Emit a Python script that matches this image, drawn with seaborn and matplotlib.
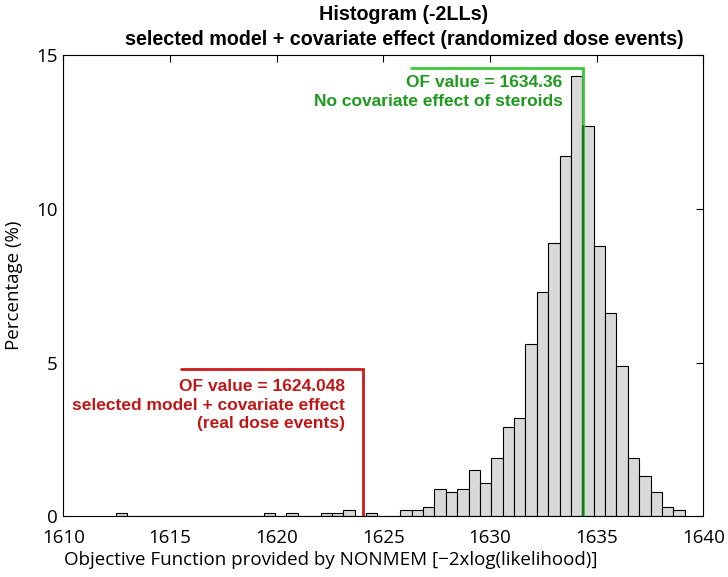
import numpy as np
import pandas as pd
import matplotlib
matplotlib.use("Agg")
import matplotlib.pyplot as plt
import seaborn as sns

# ---- data ----
bin_lo = 1612.46
bin_hi = 1639.13
n_bins = 50
# percentage per bin (1000 runs -> 0.1 % per run)
pct = [0.1, 0, 0, 0, 0, 0, 0, 0, 0, 0,
       0, 0, 0, 0.1, 0, 0.1, 0, 0, 0.1, 0.1,
       0.2, 0, 0.1, 0, 0, 0.2, 0.2, 0.3, 0.9, 0.8,
       0.9, 1.5, 1.1, 1.9, 2.9, 3.2, 5.6, 7.3, 8.9, 11.7,
       14.3, 12.7, 8.8, 6.6, 4.9, 1.9, 1.3, 0.8, 0.3, 0.2]
of_real = 1624.048
of_nocov = 1634.36
xticks = [1610, 1615, 1620, 1625, 1630, 1635, 1640]
yticks = [0, 5, 10, 15]

edges = np.linspace(bin_lo, bin_hi, n_bins + 1)
centers = (edges[:-1] + edges[1:]) / 2
df = pd.DataFrame({"of": centers, "pct": pct})

sns.set_style("white")
plt.rcParams['font.family'] = ['Open Sans', 'DejaVu Sans']
plt.rcParams['text.color'] = 'black'
plt.rcParams['axes.labelcolor'] = 'black'
plt.rcParams['xtick.color'] = 'black'
plt.rcParams['ytick.color'] = 'black'

fig = plt.figure(figsize=(7.28, 5.77), dpi=100)
ax = fig.add_axes([0.087, 0.105, 0.879, 0.800])

sns.histplot(data=df, x="of", weights="pct", bins=[float(e) for e in edges], ax=ax,
             stat="count", color="#d9d9d9", edgecolor="black", linewidth=0.8, alpha=1.0)

ax.set_xlim(1610, 1640)
ax.set_ylim(0, 15)
ax.set_xticks(xticks)
ax.set_yticks(yticks)
ax.tick_params(direction="in", length=5, width=0.8, top=True, right=True,
               labelsize=13.5, colors="black")
ax.tick_params(axis="x", pad=9)
ax.tick_params(axis="y", pad=4)
for s in ax.spines.values():
    s.set_linewidth(0.8)
    s.set_color("black")

ax.set_xlabel("Objective Function provided by NONMEM [\u22122xlog(likelihood)]",
              fontsize=13.5, color="black")
ax.xaxis.set_label_coords(0.418, -0.076)
ax.set_ylabel("Percentage (%)", fontsize=13.5, color="black")
ax.yaxis.set_label_coords(-0.063, 0.5)

title_font = ["Liberation Sans Narrow", "Liberation Sans", "DejaVu Sans"]
fig.text(0.555, 1 - 19.5 / 577, "Histogram (-2LLs)", ha="center", va="baseline",
         fontsize=14.2, fontweight="bold", family=title_font, color="black")
fig.text(0.555, 1 - 45 / 577, "selected model + covariate effect (randomized dose events)",
         ha="center", va="baseline", fontsize=14.2, fontweight="bold", family=title_font,
         color="black")

# red bracket (real dose events)
red_line = "#cc1a1a"
red_txt = "#c01818"
red_top = 4.8
ax.plot([1615.52, of_real, of_real], [red_top, red_top, 0], color=red_line, lw=2.0,
        solid_joinstyle="miter", zorder=5)
ax.text(1623.2, 3.62, "OF value = 1624.048\nselected model + covariate effect\n(real dose events)",
        ha="right", va="center", color=red_txt, fontsize=12.5, fontweight="bold",
        family=["Liberation Sans", "DejaVu Sans"], linespacing=1.33)

# green bracket (no covariate effect)
grn_line = "#3cc83c"
grn_dark = "#1a7a1a"
grn_txt = "#1e9a1e"
grn_top = 14.58
bar_h = pct[int(np.searchsorted(edges, of_nocov) - 1)]
ax.plot([1626.29, of_nocov, of_nocov], [grn_top, grn_top, 0], color=grn_line, lw=2.0,
        solid_joinstyle="miter", zorder=5)
ax.plot([of_nocov, of_nocov], [0, bar_h], color=grn_dark, lw=1.6, zorder=6)
ax.text(1633.4, 13.8, "OF value = 1634.36\nNo covariate effect of steroids",
        ha="right", va="center", color=grn_txt, fontsize=12.5, fontweight="bold",
        family=["Liberation Sans", "DejaVu Sans"], linespacing=1.33)

fig.savefig("out.png", dpi=100)
